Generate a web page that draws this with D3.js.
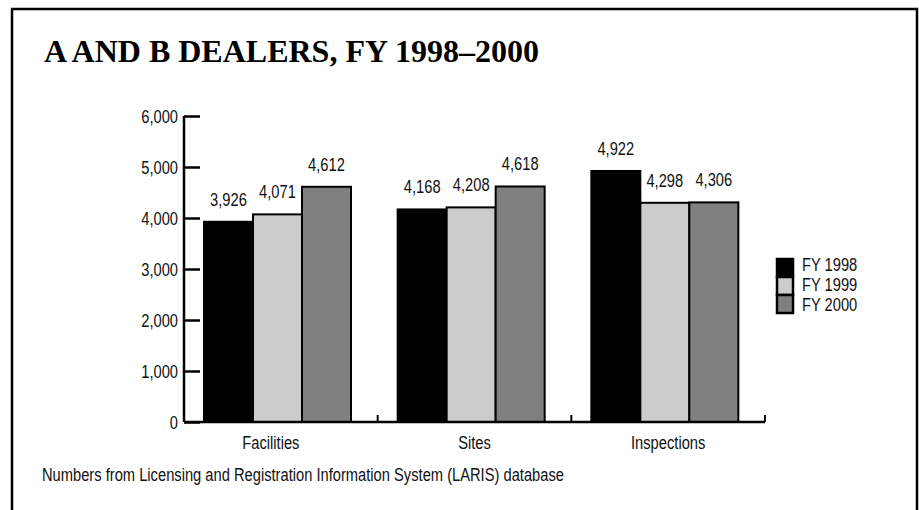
<!DOCTYPE html>
<html>
<head>
<meta charset="utf-8">
<script src="https://cdn.jsdelivr.net/npm/d3@7"></script>
<style>
  body { margin: 0; background: #fff; }
  svg text { font-family: "Liberation Sans", Arial, sans-serif; fill: #111; }
  .title { font-family: "Liberation Serif", "Times New Roman", serif; font-weight: bold; fill: #000; }
</style>
</head>
<body>
<svg id="chart" width="919" height="510"></svg>
<script>
// data
const categories = ['Facilities', 'Sites', 'Inspections'];
const seriesNames = ['FY 1998', 'FY 1999', 'FY 2000'];
const fy1998 = [3926, 4168, 4922];
const fy1999 = [4071, 4208, 4298];
const fy2000 = [4612, 4618, 4306];
const yTicks = [0, 1000, 2000, 3000, 4000, 5000, 6000];

const seriesValues = [fy1998, fy1999, fy2000];
const colors = ['#000000', '#cccccc', '#808080'];

const width = 919;
const height = 510;
const margin = { top: 116, left: 184, right: 154, bottom: 88 };
const squeeze = 0.84; // narrow look of the original condensed font
const fontSize = '17.5px';

const svg = d3.select('#chart');

// place a text at (x, y) squeezed horizontally
function narrow(sel, fx, fy) {
  sel.attr('transform', (d, i) => `translate(${fx(d, i)},${fy(d, i)}) scale(${squeeze},1)`);
  return sel;
}

// outer frame
svg.append('rect')
  .attr('x', 12)
  .attr('y', 9)
  .attr('width', 905)
  .attr('height', 520)
  .attr('fill', 'none')
  .attr('stroke', '#000')
  .attr('stroke-width', 2.5);

svg.append('text')
  .attr('class', 'title')
  .attr('x', 44)
  .attr('y', 62)
  .style('font-size', '32px')
  .text('A AND B DEALERS, FY 1998\u20132000');

const x0 = d3.scaleBand()
  .domain(categories)
  .range([margin.left, width - margin.right])
  .paddingInner(0)
  .paddingOuter(0);

const x1 = d3.scaleBand()
  .domain(seriesNames)
  .range([20, 20 + 147]);

const y = d3.scaleLinear()
  .domain([0, 6000])
  .range([height - margin.bottom, margin.top]);

// bars
const groups = svg.append('g')
  .selectAll('g')
  .data(categories)
  .enter()
  .append('g')
  .attr('transform', d => `translate(${x0(d)},0)`);

groups.selectAll('rect')
  .data((d, i) => seriesNames.map((s, j) => ({ series: s, value: seriesValues[j][i], idx: j })))
  .enter()
  .append('rect')
  .attr('x', d => x1(d.series))
  .attr('y', d => y(d.value))
  .attr('width', x1.bandwidth())
  .attr('height', d => y(0) - y(d.value))
  .attr('fill', d => colors[d.idx])
  .attr('stroke', '#000')
  .attr('stroke-width', 2);

groups.selectAll('text.val')
  .data((d, i) => seriesNames.map((s, j) => ({ series: s, value: seriesValues[j][i] })))
  .enter()
  .append('text')
  .attr('class', 'val')
  .attr('text-anchor', 'middle')
  .style('font-size', fontSize)
  .text(d => d3.format(',')(d.value))
  .call(narrow, d => x1(d.series) + x1.bandwidth() / 2, d => y(d.value) - 16);

// y axis, ticks pointing inward
const yAxis = svg.append('g')
  .attr('transform', `translate(${margin.left},0)`)
  .call(d3.axisRight(y).tickValues(yTicks).tickSize(16).tickFormat(d3.format(',')));
yAxis.select('.domain').attr('d', `M0,${y(6000)}V${y(0)}`).attr('stroke-width', 2.5);
yAxis.selectAll('.tick line').attr('stroke-width', 2.5);
yAxis.selectAll('.tick text')
  .attr('x', null)
  .attr('dy', null)
  .attr('text-anchor', 'end')
  .style('font-size', fontSize)
  .call(narrow, () => -6, () => 6);

// x axis with short upward ticks at band boundaries
const xAxis = svg.append('g')
  .attr('transform', `translate(0,${y(0)})`);
xAxis.append('line')
  .attr('x1', x0.range()[0])
  .attr('x2', x0.range()[1])
  .attr('stroke', '#000')
  .attr('stroke-width', 2.5);
xAxis.selectAll('line.tk')
  .data(categories)
  .enter()
  .append('line')
  .attr('class', 'tk')
  .attr('x1', d => x0(d) + x0.bandwidth())
  .attr('x2', d => x0(d) + x0.bandwidth())
  .attr('y1', 0)
  .attr('y2', -7)
  .attr('stroke', '#000')
  .attr('stroke-width', 2);
xAxis.selectAll('text')
  .data(categories)
  .enter()
  .append('text')
  .attr('text-anchor', 'middle')
  .style('font-size', fontSize)
  .text(d => d)
  .call(narrow, (d, i) => x0(d) + x0.bandwidth() / 2 - (i === 0 ? 10 : 0), () => 27);

// legend
const legend = svg.append('g')
  .attr('transform', 'translate(777,259)');
legend.selectAll('rect')
  .data(seriesNames)
  .enter()
  .append('rect')
  .attr('x', 0)
  .attr('y', (d, i) => i * 18)
  .attr('width', 16)
  .attr('height', 18)
  .attr('fill', (d, i) => colors[i])
  .attr('stroke', '#000')
  .attr('stroke-width', 2.5);
legend.selectAll('text')
  .data(seriesNames)
  .enter()
  .append('text')
  .style('font-size', fontSize)
  .text(d => d)
  .call(narrow, () => 25, (d, i) => 12 + i * 20);

svg.append('text')
  .style('font-size', fontSize)
  .text('Numbers from Licensing and Registration Information System (LARIS) database')
  .call(narrow, () => 42, () => 481);
</script>
</body>
</html>
